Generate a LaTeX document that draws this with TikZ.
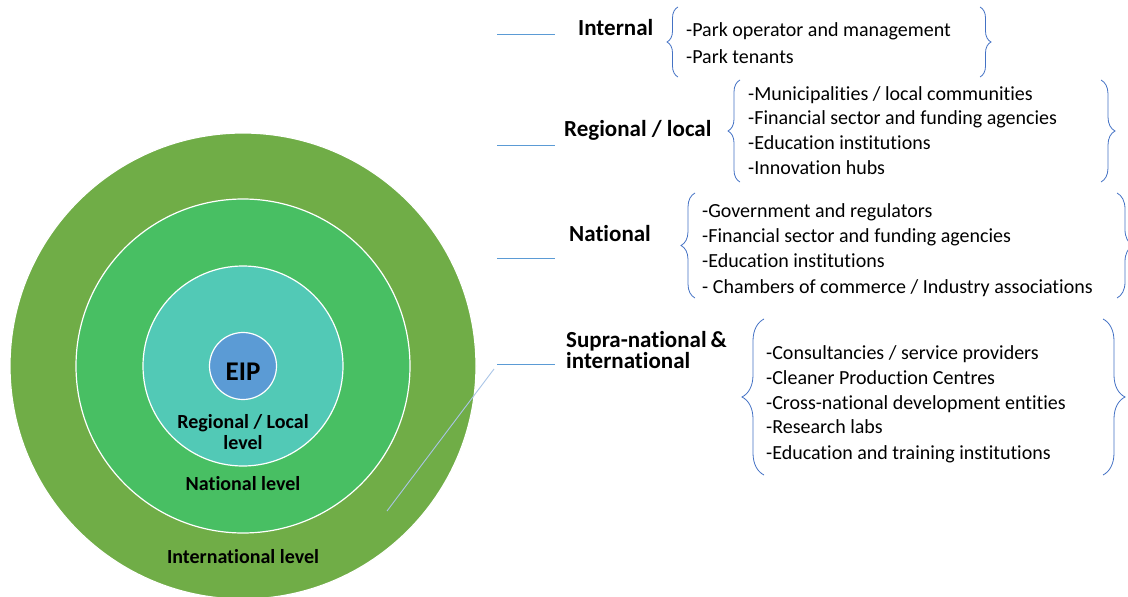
\documentclass[tikz,border=0pt]{standalone}
\usepackage{fontspec}
\setmainfont{Carlito}[Ligatures=NoCommon]
\usetikzlibrary{decorations.pathreplacing}
\definecolor{outerG}{HTML}{70AD47}
\definecolor{natG}{HTML}{48BF63}
\definecolor{regT}{HTML}{52C9B6}
\definecolor{eipB}{HTML}{5B9BD5}
\definecolor{lineB}{HTML}{5B9BD5}
\definecolor{braceB}{HTML}{4472C4}
\definecolor{diagB}{HTML}{A9C5E6}
\tikzset{
  ring/.style={circle, draw=white, line width=1.2pt, inner sep=0pt},
  lvl/.style={font=\fontsize{20}{20.5}\selectfont\bfseries, align=center, inner sep=0pt},
  head/.style={font=\fontsize{23}{21}\selectfont\bfseries, anchor=west, inner sep=0pt, align=left},
  item/.style={font=\fontsize{20}{24.8}\selectfont, anchor=west, inner sep=0pt, text height=14pt, text depth=5pt},
  tick/.style={draw=lineB, line width=0.8pt},
  brc/.style={draw=braceB, line width=0.8pt, decorate, decoration={brace, amplitude=#1}},
}
\begin{document}
\begin{tikzpicture}[x=1pt, y=-1pt]
\useasboundingbox (0,0) rectangle (1128,597);
\begin{scope}
\clip (0,0) rectangle (1128,597);
\node[ring, fill=outerG, minimum size=466pt] (outer) at (243,366) {};
\node[ring, fill=natG, minimum size=334pt] (nat) at (243,366) {};
\node[ring, fill=regT, minimum size=200pt] (reg) at (243,366) {};
\node[ring, fill=eipB, minimum size=67pt] (eip) at (243,366) {};
\end{scope}
\node[font=\fontsize{27}{27}\selectfont\bfseries, inner sep=0pt] (eiptxt) at (243,372) {EIP};
\node[lvl] (regtxt) at (243,432) {Regional / Local\\level};
\node[lvl] (nattxt) at (243,484) {National level};
\node[lvl] (inttxt) at (243,557) {International level};

% headers
\node[head] (hint) at (578,28) {Internal};
\node[head] (hreg) at (564,130) {Regional / local};
\node[head] (hnat) at (569,234) {National};
\node[head] (hsup) at (566,350) {Supra-national\,\&\\international};

% short lines
\coordinate (l1a) at (497,34); \coordinate (l1b) at (555,34);
\coordinate (l2a) at (497,145); \coordinate (l2b) at (555,145);
\coordinate (l3a) at (497,258); \coordinate (l3b) at (555,258);
\coordinate (l4a) at (497,364); \coordinate (l4b) at (555,364);
\draw[tick] (l1a) -- (l1b);
\draw[tick] (l2a) -- (l2b);
\draw[tick] (l3a) -- (l3b);
\draw[tick] (l4a) -- (l4b);
\coordinate (dA) at (494,369);
\coordinate (dB) at (387,511);
\draw[draw=diagB, line width=0.9pt] (dA) -- (dB);

% internal
\node[item] (i1) at (686,32) {-Park operator and management};
\node[item] (i2) at (686,59) {-Park tenants};
\coordinate (b1lt) at (678,7); \coordinate (b1lb) at (678,77);
\coordinate (b1rt) at (980,7); \coordinate (b1rb) at (980,77);
\draw[brc=11pt] (b1lb) -- (b1lt);
\draw[brc=11pt] (b1rt) -- (b1rb);

% regional
\node[item] (r1) at (748,96) {-Municipalities / local communities};
\node[item] (r2) at (748,120) {-Financial sector and funding agencies};
\node[item] (r3) at (748,145) {-Education institutions};
\node[item] (r4) at (748,170) {-Innovation hubs};
\coordinate (b2lt) at (740,80); \coordinate (b2lb) at (740,182);
\coordinate (b2rt) at (1101,80); \coordinate (b2rb) at (1101,182);
\draw[brc=12pt] (b2lb) -- (b2lt);
\draw[brc=14pt] (b2rt) -- (b2rb);

% national
\node[item] (n1) at (702,213) {-Government and regulators};
\node[item] (n2) at (702,238) {-Financial sector and funding agencies};
\node[item] (n3) at (702,263) {-Education institutions};
\node[item] (n4) at (702,289) {- Chambers of commerce / Industry associations};
\coordinate (b3lt) at (695,193); \coordinate (b3lb) at (695,298);
\coordinate (b3rt) at (1117,193); \coordinate (b3rb) at (1117,298);
\draw[brc=14pt] (b3lb) -- (b3lt);
\draw[brc=16pt] (b3rt) -- (b3rb);

% supra
\node[item] (s1) at (766,355) {-Consultancies / service providers};
\node[item] (s2) at (766,380) {-Cleaner Production Centres};
\node[item] (s3) at (766,405) {-Cross-national development entities};
\node[item] (s4) at (766,429) {-Research labs};
\node[item] (s5) at (766,455) {-Education and training institutions};
\coordinate (b4lt) at (764,319); \coordinate (b4lb) at (764,475);
\coordinate (b4rt) at (1103,319); \coordinate (b4rb) at (1103,475);
\draw[brc=22pt] (b4lb) -- (b4lt);
\draw[brc=22pt] (b4rt) -- (b4rb);
\end{tikzpicture}
\end{document}
